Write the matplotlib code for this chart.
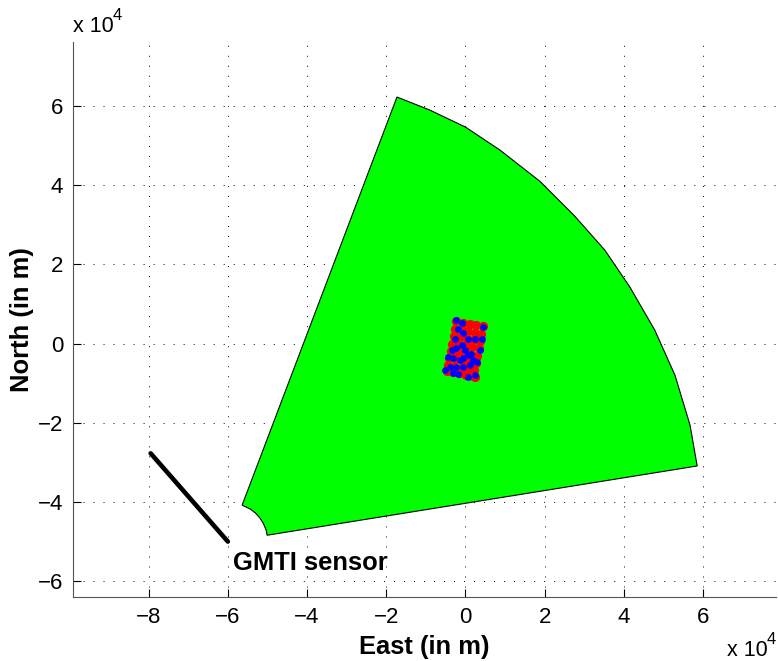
import matplotlib
matplotlib.use('Agg')
import matplotlib.pyplot as plt

plt.rcParams['font.family'] = ['Liberation Sans', 'DejaVu Sans']

# all coordinates in units of 1e4 m
sector_x = [-1.73, -0.9, 0.0, 0.87, 1.88, 2.76, 3.52, 4.15, 4.78, 5.29, 5.67, 5.85,
            -5.01, -5.03, -5.1, -5.18, -5.29, -5.43, -5.64, -1.73]
sector_y = [6.23, 5.9, 5.47, 4.89, 4.10, 3.22, 2.36, 1.43, 0.34, -0.80, -2.06, -3.09,
            -4.84, -4.72, -4.55, -4.42, -4.29, -4.18, -4.08, 6.23]

sensor_x = [-7.95, -6.0]
sensor_y = [-2.77, -5.0]

red_x = [-.23, -.06, .105, .27, .44, -.26, -.10, .07, .23, .40,
         -.30, -.13, .03, .20, .365, -.34, -.17, 0, .16, .33,
         -.37, -.205, -.04, .125, .29, -.41, -.24, -.075, .09, .257,
         -.445, -.28, -.11, .05, .22, -.47, -.305, -.14, .025, .19, .25]
red_y = [.56, .53, .495, .465, .435, .37, .34, .31, .28, .25,
         .19, .16, .13, .10, .07, 0, -.03, -.06, -.09, -.12,
         -.18, -.21, -.24, -.27, -.30, -.37, -.40, -.43, -.46, -.49,
         -.55, -.58, -.61, -.64, -.67, -.69, -.72, -.75, -.78, -.81, -.84]

blue_x = [-.23, -.10, -.18, .45, -.06, -.27, .24, .41, .07, -.10, -.35, -.23, -.01, .36,
          .15, .19, .07, -.06, -.31, -.44, -.39, -.23, -.06, .11, .28, -.52, -.31, -.18,
          .07, .24, -.14]
blue_y = [.59, .51, .38, .43, .26, .13, .13, .13, .13, -.04, -.16, -.12, -.16, -.16,
          -.25, -.42, -.29, -.37, -.37, -.33, -.59, -.59, -.59, -.54, -.46, -.67, -.75,
          -.77, -.84, -.80, -.42]

x_ticks = [-8, -6, -4, -2, 0, 2, 4, 6]
y_ticks = [-6, -4, -2, 0, 2, 4, 6]

fig = plt.figure(figsize=(7.78, 6.61), dpi=100)
ax = fig.add_axes([73 / 778, 1 - 597 / 661, 703 / 778, 555 / 661])

ax.fill(sector_x, sector_y, facecolor='#00ff00', edgecolor='black', linewidth=0.8, zorder=2)
ax.scatter(red_x, red_y, s=44, color='#ff0000', linewidths=0, zorder=3)
ax.scatter(blue_x, blue_y, s=24, color='#0000ff', linewidths=0, zorder=4)
ax.plot(sensor_x, sensor_y, color='black', linewidth=3.3, solid_capstyle='round', zorder=3)
ax.text(-5.87, -5.55, 'GMTI sensor', fontsize=18.4, fontweight='bold', va='center', ha='left')

ax.set_xlim(-9.91, 7.84)
ax.set_ylim(-6.4, 7.62)
ax.set_xticks(x_ticks)
ax.set_yticks(y_ticks)
ax.set_xticklabels(['\u2212%d' % -t if t < 0 else '%d' % t for t in x_ticks])
ax.set_yticklabels(['\u2212%d' % -t if t < 0 else '%d' % t for t in y_ticks])
ax.tick_params(direction='in', length=6, width=0.8, labelsize=16, pad=7)
ax.grid(True, color='black', linewidth=0.7, linestyle=(0, (1, 9.3)))
ax.set_axisbelow(True)

ax.spines['top'].set_visible(False)
ax.spines['right'].set_visible(False)
ax.spines['left'].set_color('#555555')
ax.spines['bottom'].set_color('#555555')

ax.set_xlabel('East (in m)', fontsize=18.4, fontweight='bold', labelpad=5)
ax.set_ylabel('North (in m)', fontsize=18.4, fontweight='bold', labelpad=3)

fig.text(73 / 778, 1 - 32 / 661, 'x 10', fontsize=15.5, ha='left', va='baseline')
fig.text(113 / 778, 1 - 20 / 661, '4', fontsize=12, ha='left', va='baseline')
fig.text(727 / 778, 1 - 656 / 661, 'x 10', fontsize=15.5, ha='left', va='baseline')
fig.text(767 / 778, 1 - 644 / 661, '4', fontsize=12, ha='left', va='baseline')

fig.savefig('out.png', dpi=100)
